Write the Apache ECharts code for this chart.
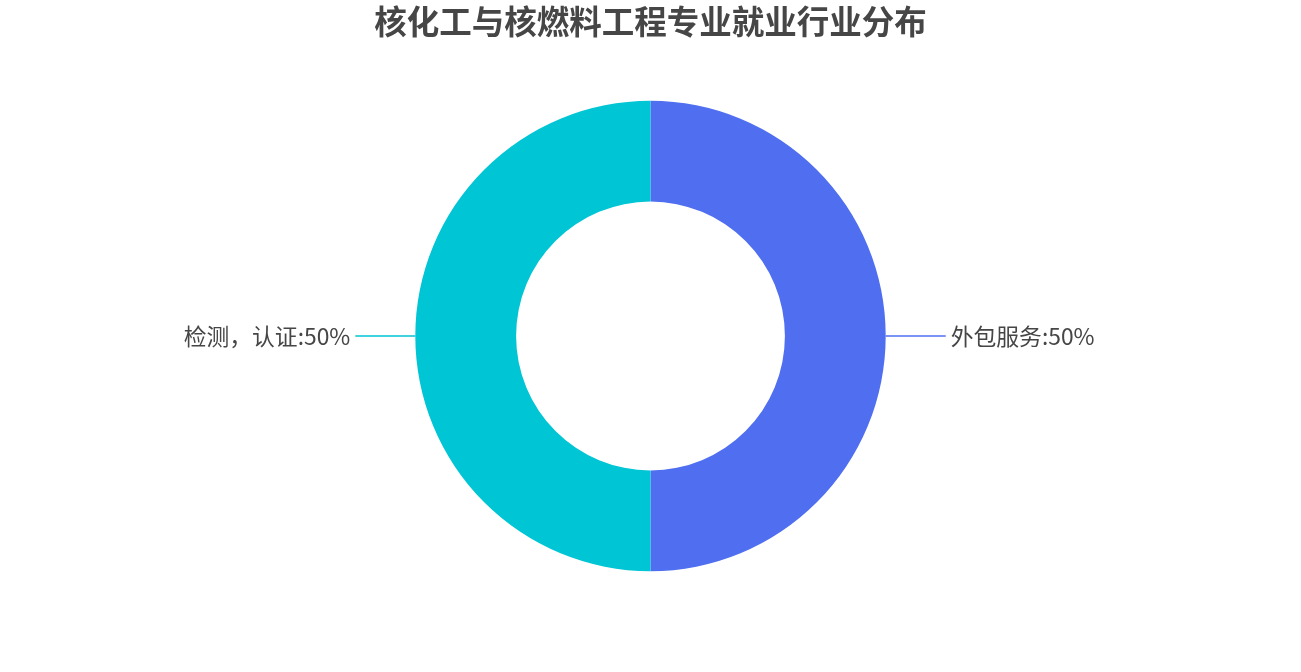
<!DOCTYPE html>
<html>
<head>
<meta charset="utf-8">
<script src="https://cdn.jsdelivr.net/npm/echarts@6/dist/echarts.min.js"></script>
<style>
html,body{margin:0;padding:0;background:#fff;}
#main{width:1301px;height:672px;}
</style>
</head>
<body>
<div id="main"></div>
<script>
var titleText = '核化工与核燃料工程专业就业行业分布';
var categories = ['外包服务', '检测，认证'];
var values = [50, 50];
var colors = ['#4f6ff0', '#00c5d4'];

var chart = echarts.init(document.getElementById('main'));
chart.setOption({
  backgroundColor: '#ffffff',
  title: {
    text: titleText,
    left: 'center',
    top: 0,
    textStyle: {
      fontSize: 32.5,
      fontWeight: 'bold',
      color: '#464646',
      fontFamily: 'Noto Sans CJK SC'
    }
  },
  color: colors,
  series: [{
    type: 'pie',
    radius: ['40%', '70%'],
    center: ['50%', '50%'],
    startAngle: 90,
    avoidLabelOverlap: false,
    label: {
      show: true,
      formatter: '{b}:{d}%',
      fontSize: 22.8,
      color: '#464646',
      fontFamily: 'Noto Sans CJK SC'
    },
    labelLine: {
      show: true,
      length: 30,
      length2: 30,
      lineStyle: { width: 1.5 }
    },
    data: categories.map(function (c, i) {
      return { name: c, value: values[i] };
    })
  }]
});
</script>
</body>
</html>
